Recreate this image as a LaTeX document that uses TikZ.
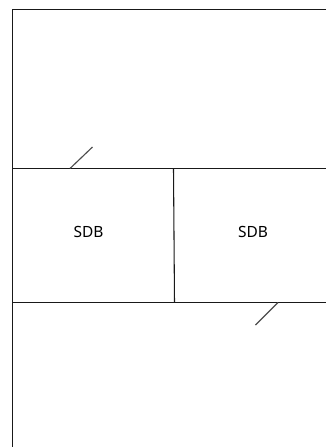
\documentclass[tikz,border=0pt]{standalone}
\usepackage{fontspec}
\setmainfont{Noto Sans}
\usetikzlibrary{calc}

\tikzset{
	wall/.style={draw=black!90, line width=.8pt},
	door/.style={draw=black!70, line width=.85pt},
	room/.style={font=\fontsize{11.6}{14}\selectfont, text=black, inner sep=0pt}
}

\begin{document}
\begin{tikzpicture}[x=.75pt,y=-.75pt]

	\useasboundingbox (0,0) rectangle (326,447);

	\coordinate (TL) at (12.5,9.5);
	\coordinate (TR) at (326,9.5);
	\coordinate (BL) at (12.5,447);
	\coordinate (ML) at (12.5,168.5);
	\coordinate (MR) at (326,168.5);
	\coordinate (NL) at (12.5,302.5);
	\coordinate (NR) at (326,302.5);
	\coordinate (PT) at (173.5,168.5);
	\coordinate (PB) at (174.5,302.5);

	\draw[wall] (TR) -- (TL) -- (BL);
	\draw[wall] (ML) -- (MR);
	\draw[wall] (NL) -- (NR);
	\draw[wall] (PT) -- (PB);

	\draw[door] (70,168.5) -- (92.5,147);
	\draw[door] (278,302.5) -- (255.5,325);

	\node[room] (SDB1) at (88.5,232) {SDB};
	\node[room] (SDB2) at (253,232) {SDB};

\end{tikzpicture}
\end{document}
